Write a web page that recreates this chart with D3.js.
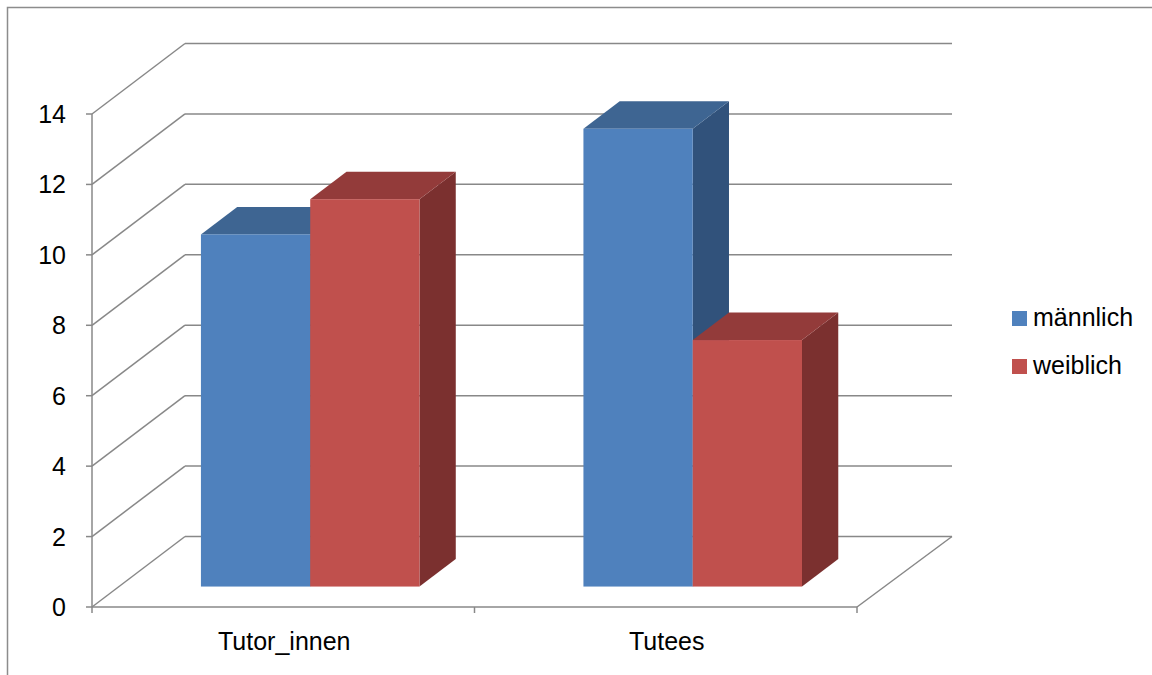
<!DOCTYPE html>
<html>
<head>
<meta charset="utf-8">
<script src="https://cdn.jsdelivr.net/npm/d3@7"></script>
<style>
  body { margin: 0; background: #fff; }
  svg { display: block; }
  text { font-family: "Liberation Sans", Arial, sans-serif; font-size: 25px; fill: #000; }
</style>
</head>
<body>
<div id="chart"></div>
<script>
// data
var categories = ['Tutor_innen', 'Tutees'];
var seriesNames = ['männlich', 'weiblich'];
var maennlich = [10, 13];
var weiblich = [11, 7];
var yTicks = [0, 2, 4, 6, 8, 10, 12, 14];

var width = 1152, height = 675;
var svg = d3.select('#chart').append('svg')
  .attr('width', width)
  .attr('height', height);

/* outer chart border, runs off the right and bottom edge */
svg.append('rect')
  .attr('x', 7.5).attr('y', 7.5)
  .attr('width', 1170).attr('height', 700)
  .attr('fill', 'none')
  .attr('stroke', '#8c8c8c')
  .attr('stroke-width', 1.5);

var gridColor = '#888888';

// front plane scales
var y = d3.scaleLinear().domain([0, 14]).range([607, 114]);
var x = d3.scaleBand().domain(categories).range([92, 857]);
var barW = x.bandwidth() / 3.5;   // gap width 150%
var inner = d3.scaleBand().domain(seriesNames)
  .range([barW * 0.75, barW * 2.75]);

// depth: z in [0,1] moves back to the wall
var depthX = 93, depthY = 70.5;
function px(xx, z) { return xx + depthX * z; }
function py(yy, z) { return yy - depthY * z; }
var wallRight = 952;

var g = svg.append('g');

/* left wall diagonals and back wall gridlines */
yTicks.forEach(function(v) {
  g.append('line')
    .attr('x1', 92).attr('y1', y(v))
    .attr('x2', px(92, 1)).attr('y2', py(y(v), 1))
    .attr('stroke', gridColor).attr('stroke-width', 1.5);
  g.append('line')
    .attr('x1', px(92, 1)).attr('y1', py(y(v), 1))
    .attr('x2', wallRight).attr('y2', py(y(v), 1))
    .attr('stroke', gridColor).attr('stroke-width', 1.5);
  // tick mark on value axis
  g.append('line')
    .attr('x1', 86).attr('y1', y(v))
    .attr('x2', 92).attr('y2', y(v))
    .attr('stroke', gridColor).attr('stroke-width', 1.5);
  g.append('text')
    .attr('x', 66).attr('y', y(v) + 9)
    .attr('text-anchor', 'end')
    .text(v);
});

// value axis line
g.append('line')
  .attr('x1', 92).attr('y1', y(14))
  .attr('x2', 92).attr('y2', y(0))
  .attr('stroke', gridColor).attr('stroke-width', 1.5);

// floor front edge and right edge
g.append('line')
  .attr('x1', 92).attr('y1', y(0))
  .attr('x2', 857).attr('y2', y(0))
  .attr('stroke', gridColor).attr('stroke-width', 1.5);
g.append('line')
  .attr('x1', 857).attr('y1', y(0))
  .attr('x2', wallRight).attr('y2', py(y(0), 1))
  .attr('stroke', gridColor).attr('stroke-width', 1.5);

// category ticks
[92].concat(categories.map(function(c) { return x(c) + x.bandwidth(); })).forEach(function(t) {
  g.append('line')
    .attr('x1', t).attr('y1', y(0))
    .attr('x2', t).attr('y2', y(0) + 6)
    .attr('stroke', gridColor).attr('stroke-width', 1.5);
});

categories.forEach(function(c) {
  g.append('text')
    .attr('x', x(c) + x.bandwidth() / 2 + 1)
    .attr('y', 650)
    .attr('text-anchor', 'middle')
    .text(c);
});

/* the 3d bars */
var colors = {
  'männlich': { front: '#4F81BD', top: '#3E6592', side: '#31527B' },
  'weiblich': { front: '#C0504D', top: '#933B3A', side: '#7B302F' }
};
var z0 = 0.29, z1 = 0.68;

var bars = [];
categories.forEach(function(c, i) {
  bars.push({ cat: c, s: 'männlich', v: maennlich[i] });
  bars.push({ cat: c, s: 'weiblich', v: weiblich[i] });
});

var barG = svg.append('g');
bars.forEach(function(d) {
  var x0 = x(d.cat) + inner(d.s);
  var x1 = x0 + barW;
  var yTop = y(d.v), yBot = y(0);
  var col = colors[d.s];
  var pts = function(arr) { return arr.map(function(p) { return p.join(','); }).join(' '); };

  // right side
  barG.append('polygon')
    .attr('points', pts([
      [px(x1, z0), py(yTop, z0)], [px(x1, z1), py(yTop, z1)],
      [px(x1, z1), py(yBot, z1)], [px(x1, z0), py(yBot, z0)]
    ]))
    .attr('fill', col.side);
  // top
  barG.append('polygon')
    .attr('points', pts([
      [px(x0, z0), py(yTop, z0)], [px(x1, z0), py(yTop, z0)],
      [px(x1, z1), py(yTop, z1)], [px(x0, z1), py(yTop, z1)]
    ]))
    .attr('fill', col.top);
  // front
  barG.append('rect')
    .attr('x', px(x0, z0)).attr('y', py(yTop, z0))
    .attr('width', barW).attr('height', yBot - yTop)
    .attr('fill', col.front);
});

/* legend */
var legend = svg.append('g');
seriesNames.forEach(function(s, i) {
  legend.append('rect')
    .attr('x', 1012).attr('y', 311 + i * 48)
    .attr('width', 15).attr('height', 15)
    .attr('fill', colors[s].front);
  legend.append('text')
    .attr('x', 1033).attr('y', 326 + i * 48)
    .text(s);
});
</script>
</body>
</html>
